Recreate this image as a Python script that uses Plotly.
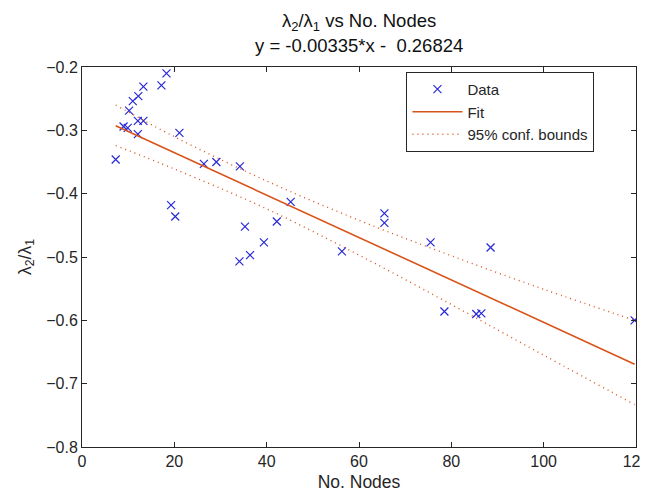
import plotly.graph_objects as go

# Data
nodes = [7.3, 18.3, 13.3, 17.2, 12.2, 11.0, 10.2, 9.0, 9.9, 12.1, 13.3, 12.1, 21.1,
         26.4, 29.1, 34.2, 19.3, 20.2, 35.3, 42.2, 45.2, 39.4, 36.4, 34.1, 56.3,
         65.5, 65.5, 75.5, 88.5, 78.5, 85.4, 86.5, 119.7]
ratio = [-0.346, -0.210, -0.231, -0.229, -0.246, -0.254, -0.269, -0.294, -0.296,
         -0.285, -0.285, -0.306, -0.304, -0.353, -0.350, -0.357, -0.418, -0.436,
         -0.452, -0.444, -0.413, -0.477, -0.497, -0.507, -0.491, -0.431, -0.446,
         -0.477, -0.485, -0.586, -0.590, -0.589, -0.600]

# Fit line endpoints (y = -0.00335*x - 0.26824)
fit_x = [7.3, 119.7]
fit_y = [-0.2927, -0.6692]

# Confidence bounds
bound_x = [7.3, 20, 40, 60, 80, 100, 119.7]
upper_y = [-0.260, -0.310, -0.380, -0.442, -0.498, -0.551, -0.600]
lower_y = [-0.324, -0.361, -0.424, -0.497, -0.575, -0.655, -0.733]

x_ticks = [0, 20, 40, 60, 80, 100, 120]
y_ticks = [-0.8, -0.7, -0.6, -0.5, -0.4, -0.3, -0.2]

FONT = "Liberation Sans, Arial, sans-serif"
AX = "#262626"
ORANGE = "#D95319"
BLUE = "#2828D8"

fig = go.Figure()
fig.add_trace(go.Scatter(
    x=nodes, y=ratio, mode="markers", name="Data",
    marker=dict(symbol="x-thin", size=8, color=BLUE,
                line=dict(color=BLUE, width=1.2)),
))
fig.add_trace(go.Scatter(
    x=fit_x, y=fit_y, mode="lines", name="Fit",
    line=dict(color=ORANGE, width=1.6),
))
fig.add_trace(go.Scatter(
    x=bound_x, y=upper_y, mode="lines", name="95% conf. bounds",
    line=dict(color=ORANGE, width=1.4, dash="1px,4px", shape="spline"),
))
fig.add_trace(go.Scatter(
    x=bound_x, y=lower_y, mode="lines", name="95% conf. bounds",
    showlegend=False,
    line=dict(color=ORANGE, width=1.4, dash="1px,4px", shape="spline"),
))

axis_common = dict(
    showgrid=False, zeroline=False, showline=True, linecolor=AX, linewidth=1,
    mirror="ticks", ticks="inside", ticklen=5, tickcolor=AX,
    tickfont=dict(family=FONT, size=16, color=AX),
    automargin=False, ticklabeloverflow="allow",
)

# The page body has an 8px margin, so the figure is sized to fit the window
fig.update_layout(
    width=640, height=484,
    margin=dict(l=74, r=12, t=59, b=45),
    paper_bgcolor="white", plot_bgcolor="white",
    font=dict(family=FONT, color=AX),
    showlegend=True,
    legend=dict(
        x=0.925, y=0.987, xanchor="right", yanchor="top",
        bordercolor=AX, borderwidth=1, bgcolor="white",
        font=dict(family=FONT, size=15, color=AX),
        tracegroupgap=0, itemwidth=50,
    ),
    xaxis=dict(range=[0, 120], tickvals=x_ticks,
               title=dict(text="No. Nodes", font=dict(family=FONT, size=17.5, color=AX), standoff=6),
               **axis_common),
    yaxis=dict(range=[-0.8, -0.2], tickvals=y_ticks, tickformat=".1f",
               title=dict(text="λ<sub>2</sub>/λ<sub>1</sub>", font=dict(family=FONT, size=17.5, color=AX), standoff=10),
               **axis_common),
    annotations=[
        dict(text="λ<sub>2</sub>/λ<sub>1</sub> vs No. Nodes", xref="paper", yref="paper",
             x=0.5, y=1.119, xanchor="center", yanchor="middle", showarrow=False,
             font=dict(family=FONT, size=18.5, color="#111111")),
        dict(text="y = -0.00335*x -  0.26824", xref="paper", yref="paper",
             x=0.5, y=1.056, xanchor="center", yanchor="middle", showarrow=False,
             font=dict(family=FONT, size=18.5, color="#111111")),
    ],
)

fig.write_html("out.html")
